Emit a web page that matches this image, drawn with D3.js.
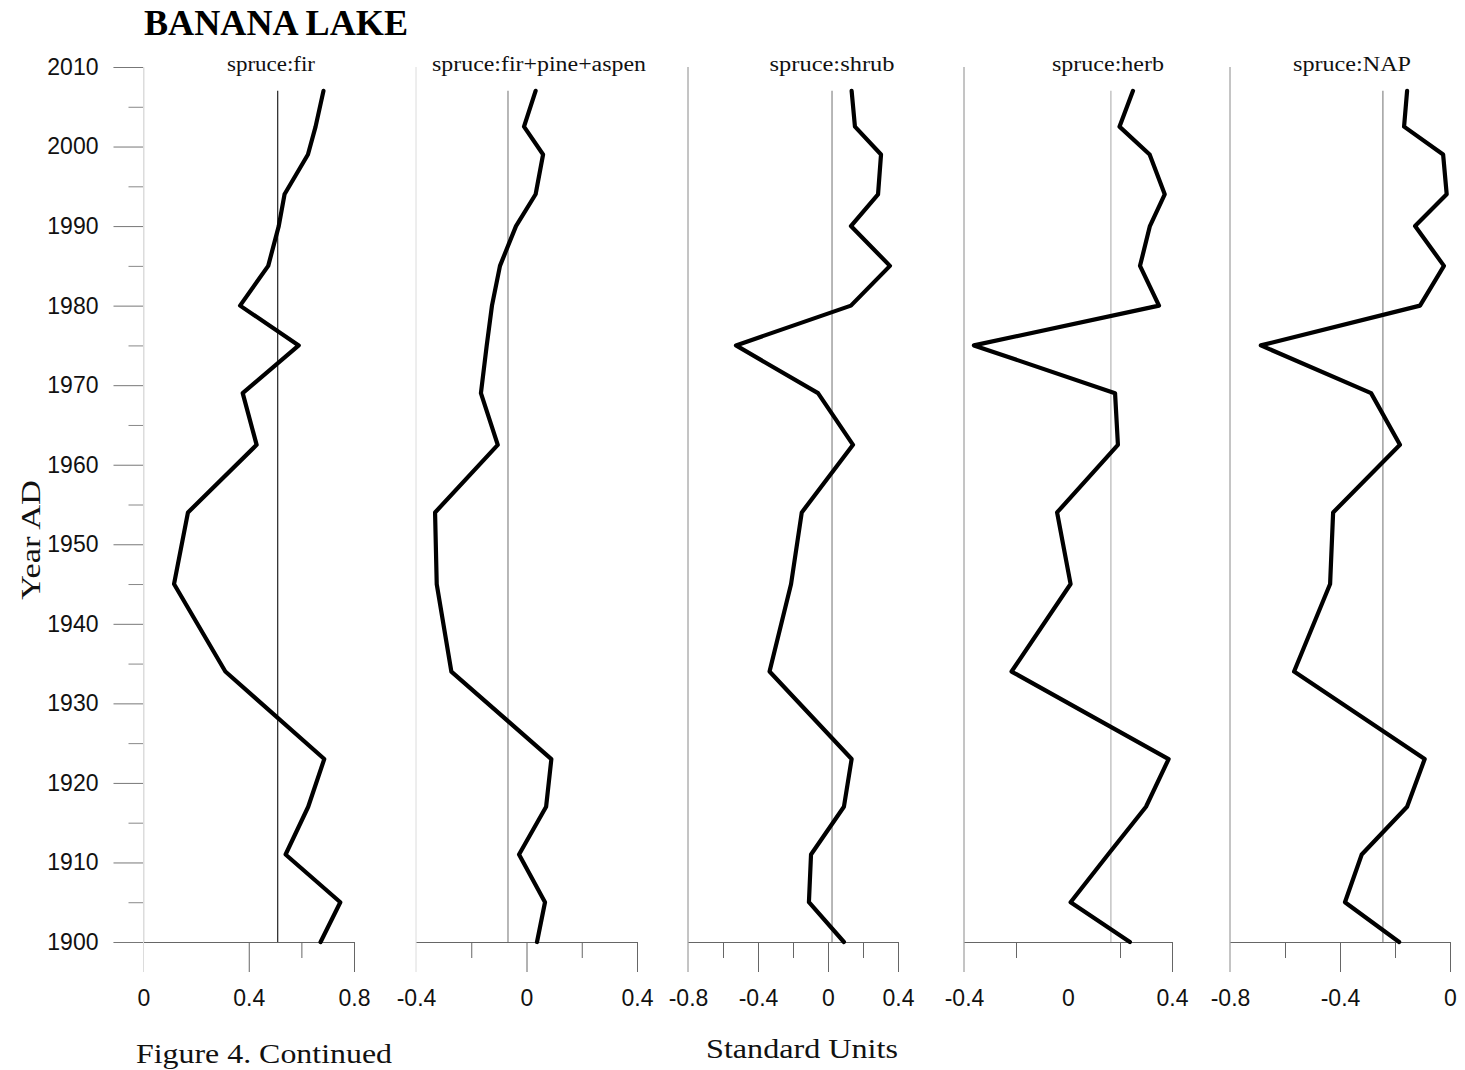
<!DOCTYPE html>
<html>
<head>
<meta charset="utf-8">
<script src="https://cdn.jsdelivr.net/npm/d3@7"></script>
<style>
  html, body { margin: 0; padding: 0; background: #fff; }
  svg { display: block; }
</style>
</head>
<body>
<svg id="chart" width="1465" height="1070"></svg>
<script>
// Sample ages (year AD) of the Banana Lake core levels
const years = [2007, 2002.5, 1999, 1994, 1990, 1985, 1980, 1975, 1969, 1962.5, 1954, 1945, 1934, 1923, 1917, 1911, 1905, 1900];

// Pollen ratios in standard units, one value per level
const spruceFir      = [0.684, 0.654, 0.625, 0.536, 0.514, 0.474, 0.367, 0.590, 0.377, 0.430, 0.169, 0.116, 0.311, 0.687, 0.626, 0.540, 0.748, 0.673];
const spruceFirPine  = [0.033, -0.009, 0.060, 0.033, -0.038, -0.096, -0.125, -0.144, -0.165, -0.104, -0.331, -0.325, -0.272, 0.090, 0.071, -0.027, 0.067, 0.038];
const spruceShrub    = [0.135, 0.154, 0.303, 0.286, 0.131, 0.354, 0.131, -0.526, -0.057, 0.143, -0.150, -0.211, -0.334, 0.135, 0.091, -0.097, -0.109, 0.091];
const spruceHerb     = [0.250, 0.198, 0.314, 0.372, 0.315, 0.277, 0.350, -0.362, 0.181, 0.192, -0.042, 0.010, -0.217, 0.387, 0.300, 0.154, 0.010, 0.238];
const spruceNAP      = [-0.156, -0.167, -0.025, -0.012, -0.127, -0.022, -0.109, -0.688, -0.287, -0.182, -0.425, -0.436, -0.567, -0.092, -0.156, -0.321, -0.382, -0.185];

// Series means (thin vertical reference lines)
const seriesMeans = [0.51, -0.067, 0.023, 0.165, -0.244];

const panelTitles = ["spruce:fir", "spruce:fir+pine+aspen", "spruce:shrub", "spruce:herb", "spruce:NAP"];
const panelDomains = [[0, 0.8], [-0.4, 0.4], [-0.8, 0.4], [-0.4, 0.4], [-0.8, 0]];

// Tick values and labels for the bottom axes
const longTicks = [[0.4, 0.8], [0, 0.4], [-0.4, 0, 0.4], [0.4], [-0.4, 0]];
const shortTicks = [[0.6], [-0.2, 0.2], [-0.6, -0.2, 0.2], [-0.2, 0.2], [-0.6, -0.2]];
const xTickValues = [[0, 0.4, 0.8], [-0.4, 0, 0.4], [-0.8, -0.4, 0, 0.4], [-0.4, 0, 0.4], [-0.8, -0.4, 0]];
const xTickLabels = [["0", "0.4", "0.8"], ["-0.4", "0", "0.4"], ["-0.8", "-0.4", "0", "0.4"], ["-0.4", "0", "0.4"], ["-0.8", "-0.4", "0"]];

const yMajorTicks = [1900, 1910, 1920, 1930, 1940, 1950, 1960, 1970, 1980, 1990, 2000, 2010];
const yMinorTicks = [1905, 1915, 1925, 1935, 1945, 1955, 1965, 1975, 1985, 1995, 2005];

const seriesList = [spruceFir, spruceFirPine, spruceShrub, spruceHerb, spruceNAP];

// ---- layout ----
const svg = d3.select("#chart");
const yTop = 67, yBottom = 942, tickBottom = 972;
const panelRanges = [[143.5, 354], [416, 637], [688, 898], [964, 1172], [1230, 1450]];
const titleCenters = [271, 539, 832, 1108, 1352];
const titleWidths = [88, 214, 125, 112, 118];
const leftLineColors = ["#dcdcdc", "#dcdcdc", "#8a8a8a", "#8a8a8a", "#8a8a8a"];
const meanColors = ["#222", "#888", "#888", "#b5b5b5", "#888"];

const sans = "'Liberation Sans', Arial, sans-serif";
const serif = "'Liberation Serif', 'Times New Roman', serif";

const y = d3.scaleLinear().domain([1900, 2010]).range([yBottom, yTop]);

// Y axis
const yAxisG = svg.append("g").attr("transform", `translate(${panelRanges[0][0]},0)`);
yAxisG.call(d3.axisLeft(y).tickValues(yMajorTicks).tickSize(30).tickPadding(15).tickFormat(d3.format("d")));
yAxisG.select(".domain").attr("stroke", "#dcdcdc");
yAxisG.selectAll(".tick line").attr("stroke", "#777");
yAxisG.selectAll(".tick text").attr("font-family", sans).attr("font-size", 23).attr("fill", "#111");
const yMinorG = svg.append("g").attr("transform", `translate(${panelRanges[0][0]},0)`);
yMinorG.call(d3.axisLeft(y).tickValues(yMinorTicks).tickSize(15).tickFormat(""));
yMinorG.select(".domain").remove();
yMinorG.selectAll(".tick line").attr("stroke", "#888");

seriesList.forEach((vals, i) => {
  const x = d3.scaleLinear().domain(panelDomains[i]).range(panelRanges[i]);
  const g = svg.append("g");

  // left boundary line of the panel
  g.append("line")
    .attr("x1", x(panelDomains[i][0])).attr("x2", x(panelDomains[i][0]))
    .attr("y1", y(2010)).attr("y2", tickBottom)
    .attr("stroke", leftLineColors[i]).attr("stroke-width", 1);

  // bottom axis: long ticks, short ticks, labels
  const longG = g.append("g").attr("transform", `translate(0,${yBottom})`)
    .call(d3.axisBottom(x).tickValues(longTicks[i]).tickSize(30).tickSizeOuter(0).tickFormat(""));
  longG.select(".domain").attr("stroke", "#666");
  longG.selectAll(".tick line").attr("stroke", "#666");

  const shortG = g.append("g").attr("transform", `translate(0,${yBottom})`)
    .call(d3.axisBottom(x).tickValues(shortTicks[i]).tickSize(16).tickFormat(""));
  shortG.select(".domain").remove();
  shortG.selectAll(".tick line").attr("stroke", "#666");

  const labelG = g.append("g").attr("transform", `translate(0,${yBottom})`)
    .call(d3.axisBottom(x).tickValues(xTickValues[i]).tickSize(0).tickPadding(48)
      .tickFormat((d, k) => xTickLabels[i][k]));
  labelG.select(".domain").remove();
  labelG.selectAll(".tick text").attr("font-family", sans).attr("font-size", 23).attr("fill", "#111");

  // mean reference line
  g.append("line")
    .attr("x1", x(seriesMeans[i])).attr("x2", x(seriesMeans[i]))
    .attr("y1", y(d3.max(years))).attr("y2", y(1900))
    .attr("stroke", meanColors[i]).attr("stroke-width", 1.2);

  // ratio curve
  const line = d3.line().x(d => x(d[1])).y(d => y(d[0]));
  g.append("path")
    .datum(years.map((yr, k) => [yr, vals[k]]))
    .attr("d", line)
    .attr("fill", "none")
    .attr("stroke", "#000")
    .attr("stroke-width", 4.2)
    .attr("stroke-linejoin", "round")
    .attr("stroke-linecap", "round");

  // panel title
  g.append("text")
    .attr("x", titleCenters[i] - titleWidths[i] / 2).attr("y", 71)
    .attr("textLength", titleWidths[i]).attr("lengthAdjust", "spacingAndGlyphs")
    .attr("font-family", serif).attr("font-size", 20).attr("fill", "#111")
    .text(panelTitles[i]);
});

// Chart title
svg.append("text")
  .attr("x", 144).attr("y", 35)
  .attr("textLength", 264).attr("lengthAdjust", "spacingAndGlyphs")
  .attr("font-family", serif).attr("font-weight", "bold").attr("font-size", 36).attr("fill", "#000")
  .text("BANANA LAKE");

// Axis titles
svg.append("text")
  .attr("transform", "translate(40,540) rotate(-90)")
  .attr("x", -60).attr("y", 0)
  .attr("textLength", 120).attr("lengthAdjust", "spacingAndGlyphs")
  .attr("font-family", serif).attr("font-size", 28).attr("fill", "#111")
  .text("Year AD");

svg.append("text")
  .attr("x", 706).attr("y", 1058)
  .attr("textLength", 192).attr("lengthAdjust", "spacingAndGlyphs")
  .attr("font-family", serif).attr("font-size", 28).attr("fill", "#111")
  .text("Standard Units");

svg.append("text")
  .attr("x", 136).attr("y", 1063)
  .attr("textLength", 256).attr("lengthAdjust", "spacingAndGlyphs")
  .attr("font-family", serif).attr("font-size", 27).attr("fill", "#111")
  .text("Figure 4. Continued");
</script>
</body>
</html>
